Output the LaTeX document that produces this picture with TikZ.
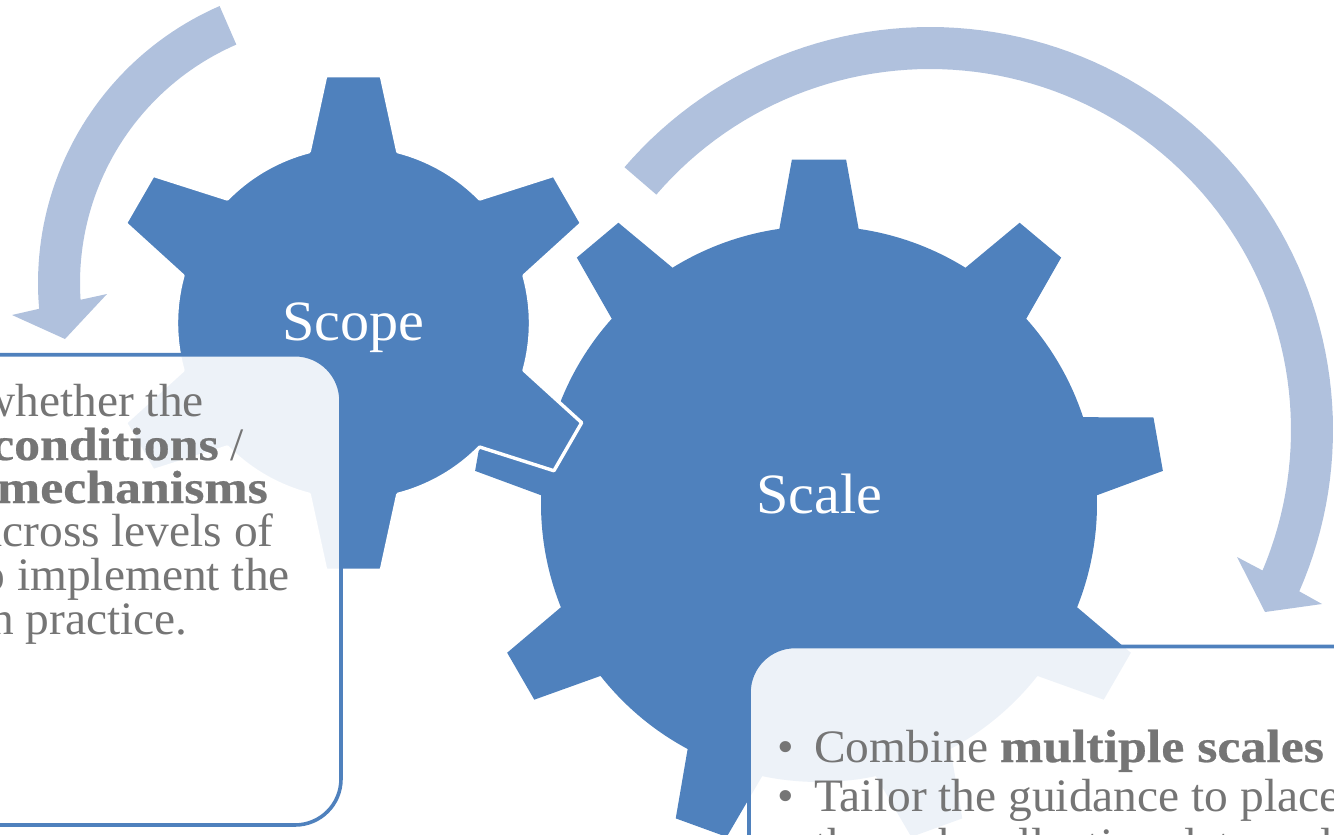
\documentclass[tikz,border=0pt]{standalone}
\usepackage{fontspec}
\setmainfont{Liberation Serif}[FakeStretch=1.02,BoldFeatures={FakeStretch=1.115,FakeBold=0.5}]
\definecolor{gearblue}{HTML}{4F81BD}
\definecolor{arcblue}{HTML}{B0C1DD}
\definecolor{txtgray}{HTML}{757575}
\newcommand{\gearpath}[7]{%
  ({#1+#3*sin(-#5)},{#2-#3*cos(-#5)})
  \foreach \k [evaluate=\k as \th using \k*360/#7, evaluate=\k as \nx using (\k+1)*360/#7] in {0,...,\numexpr#7-1\relax}{
    -- ({#1+#3*sin(\th-#5)},{#2-#3*cos(\th-#5)})
    -- ({#1+#4*sin(\th-#6)},{#2-#4*cos(\th-#6)})
    -- ({#1+#4*sin(\th+#6)},{#2-#4*cos(\th+#6)})
    -- plot[domain=\th+#5:\nx-#5,samples=24] ({#1+#3*sin(\x)},{#2-#3*cos(\x)})
  } -- cycle}
\tikzset{
  gearfill/.style={fill=gearblue,draw=white,line width=3.4pt,line join=round},
  cardbox/.style={fill=white,fill opacity=.9,draw=gearblue,line width=3.6pt,rounded corners=46pt},
  gearlabel/.style={text=white,font=\fontsize{57}{57}\selectfont,inner sep=0pt,anchor=base},
  cardtext/.style={text=txtgray,font=\fontsize{46.5}{44}\selectfont,inner sep=0pt,anchor=base east},
  bullettext/.style={text=txtgray,font=\fontsize{46.5}{49}\selectfont,inner sep=0pt}
}
\begin{document}
\begin{tikzpicture}[x=1pt,y=-1pt]
\useasboundingbox (0,0) rectangle (1334,835);
\clip (0,0) rectangle (1334,835);
% circular arrows
\fill[arcblue] plot[domain=-49.3:113.6,samples=90] ({930+403*sin(\x)},{430-403*cos(\x)})
  -- (1322,604) -- (1265,612) -- (1237,557)
  -- plot[domain=112.9:-49.3,samples=90] ({930+361*sin(\x)},{430-361*cos(\x)}) -- cycle;
\fill[arcblue] plot[domain=-23.5:-94.9,samples=50] ({340+302*sin(\x)},{283-302*cos(\x)})
  -- (12,315) -- (65,339) -- (107,294)
  -- plot[domain=-93.7:-23.5,samples=50] ({340+260*sin(\x)},{283-260*cos(\x)}) -- cycle;
% gears
\fill[gearblue,line join=round] \gearpath{819}{504}{278}{345.5}{8.2}{4.5}{9};
\filldraw[gearfill] \gearpath{353.5}{323}{177}{249}{14.5}{6.4}{6};
% cards
\path[cardbox] (-100,354.7) rectangle (341,825);
\path[cardbox] (749,646.5) rectangle (1500,1000);
% texts
\node[gearlabel] (scope) at (353.5,340) {Scope};
\node[gearlabel] (scale) at (819.5,513) {Scale};
\node[cardtext] (l1) at (204,416) {whether the};
\node[cardtext] (l2) at (244,460) {\textbf{conditions} /};
\node[cardtext] (l3) at (268,503) {\textbf{mechanisms}};
\node[cardtext] (l4) at (274,546) {across levels of};
\node[cardtext] (l5) at (290,590) {to implement the};
\node[cardtext] (l6) at (188,634) {in practice.};
\node[bullettext,anchor=base] (b1) at (786,762) {•};
\node[bullettext,anchor=base] (b2) at (786,811) {•};
\node[bullettext,anchor=base west] (r1) at (814,762) {Combine \textbf{multiple scales}};
\node[bullettext,anchor=base west] (r2) at (814,811) {Tailor the guidance to place};
\node[bullettext,anchor=base west] (r3) at (814,860) {through collecting data and};
\end{tikzpicture}
\end{document}
